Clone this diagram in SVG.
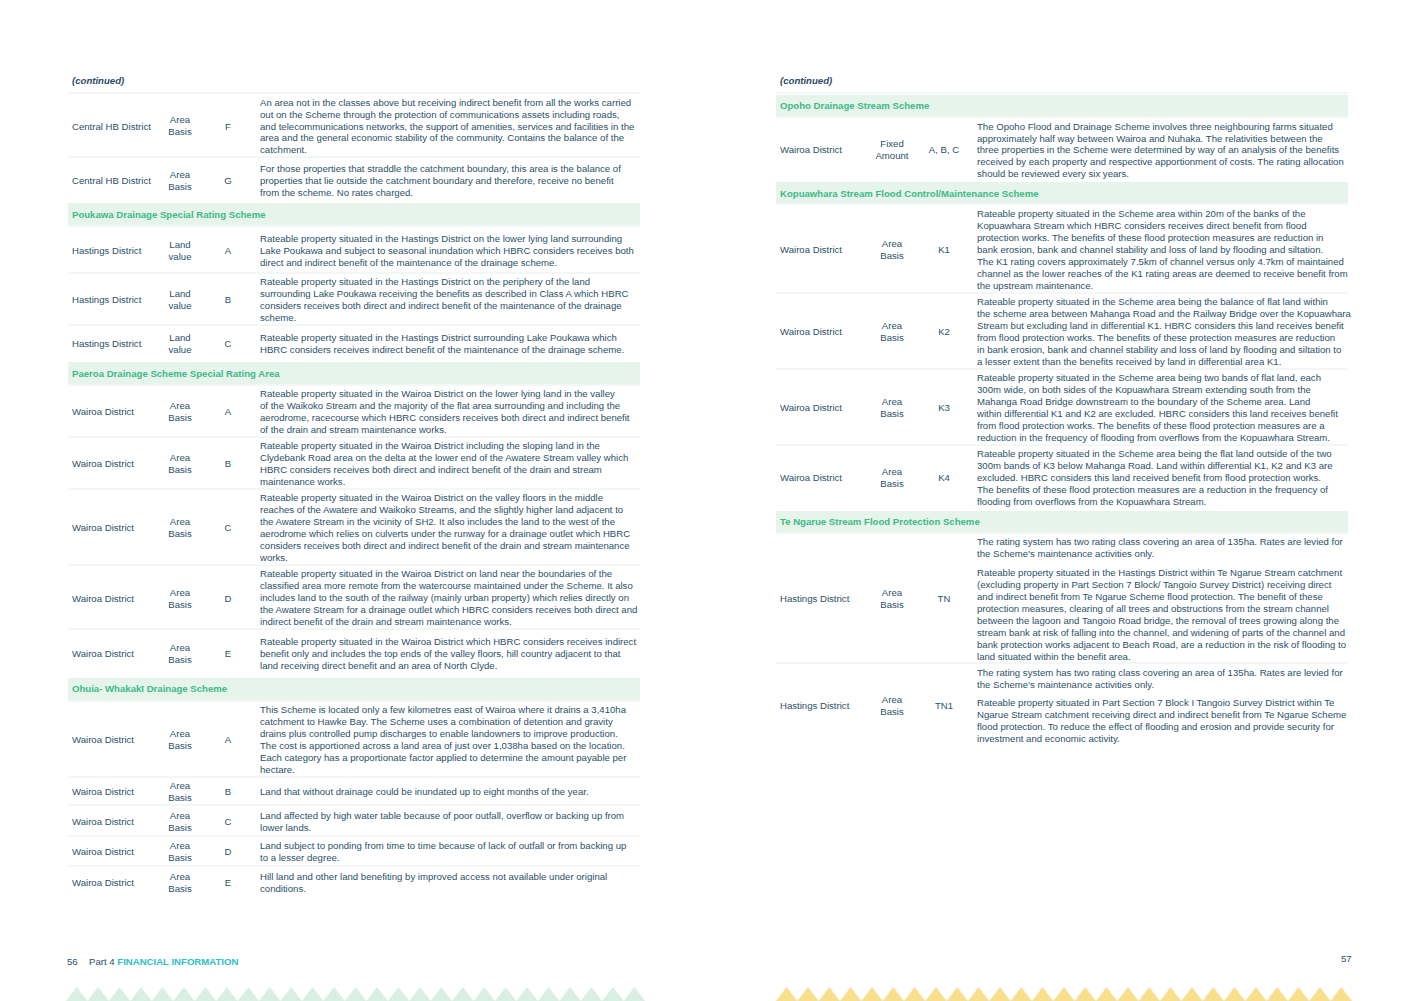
<svg xmlns="http://www.w3.org/2000/svg" width="1416" height="1001" viewBox="0 0 1416 1001">
<style>
text{font-family:"Liberation Sans",Arial,sans-serif;font-size:9.6px;fill:#2c5068}
.c{text-anchor:middle}
.h{fill:#3dba86;font-weight:bold}
.hb{fill:#e6f4ec}
.s{stroke:#e8f1ee;stroke-width:1.2}
.it{font-style:italic;font-weight:bold;fill:#2c4a66}
.ft{fill:#2cc0c4;font-weight:bold}
</style>
<rect width="1416" height="1001" fill="#fff"/>
<defs>
<pattern id="tg" x="66" y="987" width="21.45" height="14" patternUnits="userSpaceOnUse"><path d="M0 14 L10.7 0 L21.45 14Z" fill="#d9efe3"/></pattern>
<pattern id="ty" x="776" y="987" width="21.33" height="14" patternUnits="userSpaceOnUse"><path d="M0 14 L10.66 0 L21.33 14Z" fill="#f7df8e"/></pattern>
</defs>
<rect x="66" y="987" width="579" height="14" fill="url(#tg)"/>
<rect x="776" y="987" width="576" height="14" fill="url(#ty)"/>

<g id="left">
<text x="72" y="84" class="it">(continued)</text>
<g class="s"><line x1="68" y1="93" x2="640" y2="93"/><line x1="68" y1="157" x2="640" y2="157"/><line x1="68" y1="226" x2="640" y2="226"/><line x1="68" y1="273" x2="640" y2="273"/><line x1="68" y1="325" x2="640" y2="325"/><line x1="68" y1="385" x2="640" y2="385"/><line x1="68" y1="437" x2="640" y2="437"/><line x1="68" y1="489" x2="640" y2="489"/><line x1="68" y1="565" x2="640" y2="565"/><line x1="68" y1="629" x2="640" y2="629"/><line x1="68" y1="701" x2="640" y2="701"/><line x1="68" y1="777" x2="640" y2="777"/><line x1="68" y1="805" x2="640" y2="805"/><line x1="68" y1="836" x2="640" y2="836"/><line x1="68" y1="866" x2="640" y2="866"/></g>
<rect class="hb" x="68" y="203" width="572" height="22"/>
<rect class="hb" x="68" y="362" width="572" height="22"/>
<rect class="hb" x="68" y="678" width="572" height="22"/>
<text x="72" y="217.5" class="h">Poukawa Drainage Special Rating Scheme</text>
<text x="72" y="376.5" class="h">Paeroa Drainage Scheme Special Rating Area</text>
<text x="72" y="691.5" class="h">Ohuia- Whakakī Drainage Scheme</text>

<text x="72" y="129.5">Central HB District</text><text x="180" y="122.5" class="c">Area</text><text x="180" y="134.5" class="c">Basis</text><text x="228" y="129.5" class="c">F</text>
<text x="260" y="105.5">An area not in the classes above but receiving indirect benefit from all the works carried</text>
<text x="260" y="117.5">out on the Scheme through the protection of communications assets including roads,</text>
<text x="260" y="129.5">and telecommunications networks, the support of amenities, services and facilities in the</text>
<text x="260" y="140.5">area and the general economic stability of the community. Contains the balance of the</text>
<text x="260" y="152.5">catchment.</text>

<text x="72" y="183.5">Central HB District</text><text x="180" y="177.5" class="c">Area</text><text x="180" y="189.5" class="c">Basis</text><text x="228" y="183.5" class="c">G</text>
<text x="260" y="171.5">For those properties that straddle the catchment boundary, this area is the balance of</text>
<text x="260" y="183.5">properties that lie outside the catchment boundary and therefore, receive no benefit</text>
<text x="260" y="195.5">from the scheme. No rates charged.</text>

<text x="72" y="253.5">Hastings District</text><text x="180" y="247.5" class="c">Land</text><text x="180" y="259.5" class="c">value</text><text x="228" y="253.5" class="c">A</text>
<text x="260" y="241.5">Rateable property situated in the Hastings District on the lower lying land surrounding</text>
<text x="260" y="253.5">Lake Poukawa and subject to seasonal inundation which HBRC considers receives both</text>
<text x="260" y="265.5">direct and indirect benefit of the maintenance of the drainage scheme.</text>

<text x="72" y="302.5">Hastings District</text><text x="180" y="296.5" class="c">Land</text><text x="180" y="308.5" class="c">value</text><text x="228" y="302.5" class="c">B</text>
<text x="260" y="284.5">Rateable property situated in the Hastings District on the periphery of the land</text>
<text x="260" y="296.5">surrounding Lake Poukawa receiving the benefits as described in Class A which HBRC</text>
<text x="260" y="308.5">considers receives both direct and indirect benefit of the maintenance of the drainage</text>
<text x="260" y="320.5">scheme.</text>

<text x="72" y="346.5">Hastings District</text><text x="180" y="340.5" class="c">Land</text><text x="180" y="352.5" class="c">value</text><text x="228" y="346.5" class="c">C</text>
<text x="260" y="340.5">Rateable property situated in the Hastings District surrounding Lake Poukawa which</text>
<text x="260" y="352.5">HBRC considers receives indirect benefit of the maintenance of the drainage scheme.</text>

<text x="72" y="414.5">Wairoa District</text><text x="180" y="408.5" class="c">Area</text><text x="180" y="420.5" class="c">Basis</text><text x="228" y="414.5" class="c">A</text>
<text x="260" y="396.5">Rateable property situated in the Wairoa District on the lower lying land in the valley</text>
<text x="260" y="408.5">of the Waikoko Stream and the majority of the flat area surrounding and including the</text>
<text x="260" y="420.5">aerodrome, racecourse which HBRC considers receives both direct and indirect benefit</text>
<text x="260" y="432.5">of the drain and stream maintenance works.</text>

<text x="72" y="466.5">Wairoa District</text><text x="180" y="460.5" class="c">Area</text><text x="180" y="472.5" class="c">Basis</text><text x="228" y="466.5" class="c">B</text>
<text x="260" y="448.5">Rateable property situated in the Wairoa District including the sloping land in the</text>
<text x="260" y="460.5">Clydebank Road area on the delta at the lower end of the Awatere Stream valley which</text>
<text x="260" y="472.5">HBRC considers receives both direct and indirect benefit of the drain and stream</text>
<text x="260" y="484.5">maintenance works.</text>

<text x="72" y="530.5">Wairoa District</text><text x="180" y="524.5" class="c">Area</text><text x="180" y="536.5" class="c">Basis</text><text x="228" y="530.5" class="c">C</text>
<text x="260" y="500.5">Rateable property situated in the Wairoa District on the valley floors in the middle</text>
<text x="260" y="512.5">reaches of the Awatere and Waikoko Streams, and the slightly higher land adjacent to</text>
<text x="260" y="524.5">the Awatere Stream in the vicinity of SH2. It also includes the land to the west of the</text>
<text x="260" y="536.5">aerodrome which relies on culverts under the runway for a drainage outlet which HBRC</text>
<text x="260" y="548.5">considers receives both direct and indirect benefit of the drain and stream maintenance</text>
<text x="260" y="560.5">works.</text>

<text x="72" y="601.5">Wairoa District</text><text x="180" y="595.5" class="c">Area</text><text x="180" y="607.5" class="c">Basis</text><text x="228" y="601.5" class="c">D</text>
<text x="260" y="576.5">Rateable property situated in the Wairoa District on land near the boundaries of the</text>
<text x="260" y="588.5">classified area more remote from the watercourse maintained under the Scheme. It also</text>
<text x="260" y="600.5">includes land to the south of the railway (mainly urban property) which relies directly on</text>
<text x="260" y="612.5">the Awatere Stream for a drainage outlet which HBRC considers receives both direct and</text>
<text x="260" y="624.5">indirect benefit of the drain and stream maintenance works.</text>

<text x="72" y="656.5">Wairoa District</text><text x="180" y="650.5" class="c">Area</text><text x="180" y="662.5" class="c">Basis</text><text x="228" y="656.5" class="c">E</text>
<text x="260" y="644.5">Rateable property situated in the Wairoa District which HBRC considers receives indirect</text>
<text x="260" y="656.5">benefit only and includes the top ends of the valley floors, hill country adjacent to that</text>
<text x="260" y="668.5">land receiving direct benefit and an area of North Clyde.</text>

<text x="72" y="742.5">Wairoa District</text><text x="180" y="736.5" class="c">Area</text><text x="180" y="748.5" class="c">Basis</text><text x="228" y="742.5" class="c">A</text>
<text x="260" y="712.5">This Scheme is located only a few kilometres east of Wairoa where it drains a 3,410ha</text>
<text x="260" y="724.5">catchment to Hawke Bay. The Scheme uses a combination of detention and gravity</text>
<text x="260" y="736.5">drains plus controlled pump discharges to enable landowners to improve production.</text>
<text x="260" y="748.5">The cost is apportioned across a land area of just over 1,038ha based on the location.</text>
<text x="260" y="760.5">Each category has a proportionate factor applied to determine the amount payable per</text>
<text x="260" y="772.5">hectare.</text>

<text x="72" y="794.5">Wairoa District</text><text x="180" y="788.5" class="c">Area</text><text x="180" y="800.5" class="c">Basis</text><text x="228" y="794.5" class="c">B</text>
<text x="260" y="794.5">Land that without drainage could be inundated up to eight months of the year.</text>

<text x="72" y="824.5">Wairoa District</text><text x="180" y="818.5" class="c">Area</text><text x="180" y="830.5" class="c">Basis</text><text x="228" y="824.5" class="c">C</text>
<text x="260" y="818.5">Land affected by high water table because of poor outfall, overflow or backing up from</text>
<text x="260" y="830.5">lower lands.</text>

<text x="72" y="854.5">Wairoa District</text><text x="180" y="848.5" class="c">Area</text><text x="180" y="860.5" class="c">Basis</text><text x="228" y="854.5" class="c">D</text>
<text x="260" y="848.5">Land subject to ponding from time to time because of lack of outfall or from backing up</text>
<text x="260" y="860.5">to a lesser degree.</text>

<text x="72" y="885.5">Wairoa District</text><text x="180" y="879.5" class="c">Area</text><text x="180" y="891.5" class="c">Basis</text><text x="228" y="885.5" class="c">E</text>
<text x="260" y="879.5">Hill land and other land benefiting by improved access not available under original</text>
<text x="260" y="891.5">conditions.</text>

<text x="67" y="965">56</text><text x="89" y="965">Part 4 <tspan class="ft">FINANCIAL INFORMATION</tspan></text>
</g>

<g id="right">
<text x="780" y="84" class="it">(continued)</text>
<g class="s"><line x1="776" y1="93" x2="1348" y2="93"/><line x1="776" y1="117" x2="1348" y2="117"/><line x1="776" y1="204" x2="1348" y2="204"/><line x1="776" y1="293" x2="1348" y2="293"/><line x1="776" y1="369" x2="1348" y2="369"/><line x1="776" y1="445" x2="1348" y2="445"/><line x1="776" y1="533" x2="1348" y2="533"/><line x1="776" y1="663" x2="1348" y2="663"/></g>
<rect class="hb" x="776" y="95" width="572" height="21"/>
<rect class="hb" x="776" y="182" width="572" height="21"/>
<rect class="hb" x="776" y="511" width="572" height="21"/>
<text x="780" y="108.5" class="h">Opoho Drainage Stream Scheme</text>
<text x="780" y="196.5" class="h">Kopuawhara Stream Flood Control/Maintenance Scheme</text>
<text x="780" y="524.5" class="h">Te Ngarue Stream Flood Protection Scheme</text>

<text x="780" y="152.5">Wairoa District</text><text x="892" y="146.5" class="c">Fixed</text><text x="892" y="158.5" class="c">Amount</text><text x="944" y="152.5" class="c">A, B, C</text>
<text x="977" y="129.5">The Opoho Flood and Drainage Scheme involves three neighbouring farms situated</text>
<text x="977" y="141.5">approximately half way between Wairoa and Nuhaka. The relativities between the</text>
<text x="977" y="152.5">three properties in the Scheme were determined by way of an analysis of the benefits</text>
<text x="977" y="164.5">received by each property and respective apportionment of costs. The rating allocation</text>
<text x="977" y="176.5">should be reviewed every six years.</text>

<text x="780" y="252.5">Wairoa District</text><text x="892" y="246.5" class="c">Area</text><text x="892" y="258.5" class="c">Basis</text><text x="944" y="252.5" class="c">K1</text>
<text x="977" y="216.5">Rateable property situated in the Scheme area within 20m of the banks of the</text>
<text x="977" y="228.5">Kopuawhara Stream which HBRC considers receives direct benefit from flood</text>
<text x="977" y="240.5">protection works. The benefits of these flood protection measures are reduction in</text>
<text x="977" y="252.5">bank erosion, bank and channel stability and loss of land by flooding and siltation.</text>
<text x="977" y="264.5">The K1 rating covers approximately 7.5km of channel versus only 4.7km of maintained</text>
<text x="977" y="276.5">channel as the lower reaches of the K1 rating areas are deemed to receive benefit from</text>
<text x="977" y="288.5">the upstream maintenance.</text>

<text x="780" y="334.5">Wairoa District</text><text x="892" y="328.5" class="c">Area</text><text x="892" y="340.5" class="c">Basis</text><text x="944" y="334.5" class="c">K2</text>
<text x="977" y="304.5">Rateable property situated in the Scheme area being the balance of flat land within</text>
<text x="977" y="316.5">the scheme area between Mahanga Road and the Railway Bridge over the Kopuawhara</text>
<text x="977" y="328.5">Stream but excluding land in differential K1. HBRC considers this land receives benefit</text>
<text x="977" y="340.5">from flood protection works. The benefits of these protection measures are reduction</text>
<text x="977" y="352.5">in bank erosion, bank and channel stability and loss of land by flooding and siltation to</text>
<text x="977" y="364.5">a lesser extent than the benefits received by land in differential area K1.</text>

<text x="780" y="410.5">Wairoa District</text><text x="892" y="404.5" class="c">Area</text><text x="892" y="416.5" class="c">Basis</text><text x="944" y="410.5" class="c">K3</text>
<text x="977" y="380.5">Rateable property situated in the Scheme area being two bands of flat land, each</text>
<text x="977" y="392.5">300m wide, on both sides of the Kopuawhara Stream extending south from the</text>
<text x="977" y="404.5">Mahanga Road Bridge downstream to the boundary of the Scheme area. Land</text>
<text x="977" y="416.5">within differential K1 and K2 are excluded. HBRC considers this land receives benefit</text>
<text x="977" y="428.5">from flood protection works. The benefits of these flood protection measures are a</text>
<text x="977" y="440.5">reduction in the frequency of flooding from overflows from the Kopuawhara Stream.</text>

<text x="780" y="480.5">Wairoa District</text><text x="892" y="474.5" class="c">Area</text><text x="892" y="486.5" class="c">Basis</text><text x="944" y="480.5" class="c">K4</text>
<text x="977" y="456.5">Rateable property situated in the Scheme area being the flat land outside of the two</text>
<text x="977" y="468.5">300m bands of K3 below Mahanga Road. Land within differential K1, K2 and K3 are</text>
<text x="977" y="480.5">excluded. HBRC considers this land received benefit from flood protection works.</text>
<text x="977" y="492.5">The benefits of these flood protection measures are a reduction in the frequency of</text>
<text x="977" y="504.5">flooding from overflows from the Kopuawhara Stream.</text>

<text x="780" y="601.5">Hastings District</text><text x="892" y="595.5" class="c">Area</text><text x="892" y="607.5" class="c">Basis</text><text x="944" y="601.5" class="c">TN</text>
<text x="977" y="544.5">The rating system has two rating class covering an area of 135ha. Rates are levied for</text>
<text x="977" y="556.5">the Scheme's maintenance activities only.</text>
<text x="977" y="575.5">Rateable property situated in the Hastings District within Te Ngarue Stream catchment</text>
<text x="977" y="587.5">(excluding property in Part Section 7 Block/ Tangoio Survey District) receiving direct</text>
<text x="977" y="599.5">and indirect benefit from Te Ngarue Scheme flood protection. The benefit of these</text>
<text x="977" y="611.5">protection measures, clearing of all trees and obstructions from the stream channel</text>
<text x="977" y="623.5">between the lagoon and Tangoio Road bridge, the removal of trees growing along the</text>
<text x="977" y="635.5">stream bank at risk of falling into the channel, and widening of parts of the channel and</text>
<text x="977" y="647.5">bank protection works adjacent to Beach Road, are a reduction in the risk of flooding to</text>
<text x="977" y="659.5">land situated within the benefit area.</text>

<text x="780" y="708.5">Hastings District</text><text x="892" y="702.5" class="c">Area</text><text x="892" y="714.5" class="c">Basis</text><text x="944" y="708.5" class="c">TN1</text>
<text x="977" y="675.5">The rating system has two rating class covering an area of 135ha. Rates are levied for</text>
<text x="977" y="687.5">the Scheme's maintenance activities only.</text>
<text x="977" y="705.5">Rateable property situated in Part Section 7 Block I Tangoio Survey District within Te</text>
<text x="977" y="717.5">Ngarue Stream catchment receiving direct and indirect benefit from Te Ngarue Scheme</text>
<text x="977" y="729.5">flood protection. To reduce the effect of flooding and erosion and provide security for</text>
<text x="977" y="741.5">investment and economic activity.</text>

<text x="1341" y="962">57</text>
</g>
</svg>
